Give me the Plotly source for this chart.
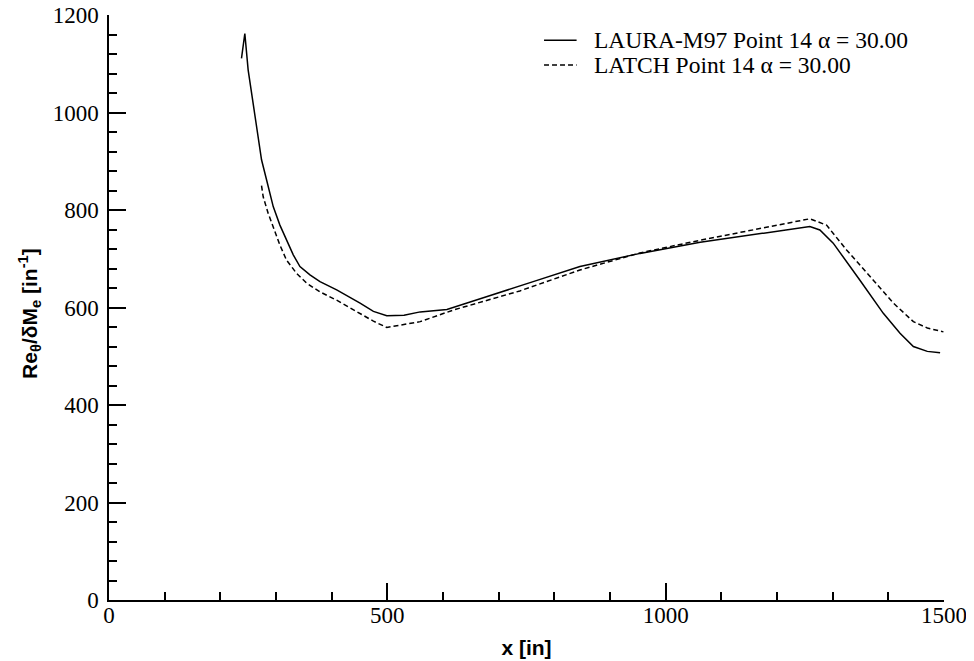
import plotly.graph_objects as go

laura_x = [238, 244, 250, 259, 265, 274, 283, 295, 307, 319, 331, 343, 361, 379, 409, 451, 475, 499, 530, 559, 607, 678, 738, 762, 846, 954, 1062, 1181, 1259, 1277, 1301, 1349, 1391, 1421, 1445, 1470, 1493]
laura_y = [1111, 1162, 1087, 1019, 971, 903, 862, 807, 769, 738, 708, 684, 667, 653, 636, 609, 592, 583, 584, 591, 596, 622, 643, 653, 684, 711, 734, 754, 766, 759, 732, 656, 588, 547, 520, 510, 507]

latch_x = [274, 277, 286, 295, 307, 319, 337, 355, 379, 409, 451, 475, 499, 559, 619, 738, 846, 954, 1062, 1181, 1259, 1289, 1325, 1373, 1409, 1445, 1470, 1499]
latch_y = [850, 827, 793, 766, 728, 697, 670, 650, 632, 615, 588, 572, 559, 571, 595, 634, 677, 712, 738, 765, 782, 769, 718, 656, 609, 571, 558, 550]

laura_name = "LAURA-M97 Point 14 α = 30.00"
latch_name = "LATCH Point 14 α = 30.00"
x_title = "<b>x [in]</b>"
y_title = "<b>Re<sub>θ</sub>/δM<sub>e</sub> [in<sup>-1</sup>]</b>"

solid = dict(color="black", width=1.5)
dashed = dict(color="black", width=1.5, dash="5px,3px")

fig = go.Figure()
fig.add_trace(go.Scatter(x=laura_x, y=laura_y, mode="lines", name=laura_name,
                         line=solid, showlegend=False))
fig.add_trace(go.Scatter(x=latch_x, y=latch_y, mode="lines", name=latch_name,
                         line=dashed, showlegend=False))

serif = "Liberation Serif, Times New Roman, serif"
sans = "Liberation Sans, Arial, sans-serif"

# legend drawn by hand (paper coordinates)
legend_rows = [(laura_name, solid, 0.957), (latch_name, dashed, 0.9145)]
for name, ln, yy in legend_rows:
    fig.add_shape(type="line", xref="paper", yref="paper",
                  x0=0.521, x1=0.560, y0=yy, y1=yy, line=ln)
    fig.add_annotation(text=name, xref="paper", yref="paper", x=0.5784, y=yy,
                       xanchor="left", yanchor="middle", showarrow=False,
                       font=dict(family=serif, size=23.5, color="black"))

# y-axis title as a rotated annotation for exact placement
fig.add_annotation(text=y_title, xref="paper", yref="paper", x=0, y=0.489,
                   xshift=-79, xanchor="center", yanchor="middle", textangle=-90,
                   showarrow=False, font=dict(family=sans, size=21, color="black"))

# page body has an 8px margin, so the figure is drawn 8px smaller and offset
fig.update_layout(
    width=966, height=653,
    margin=dict(l=101, r=30, t=7, b=61),
    paper_bgcolor="white", plot_bgcolor="white",
    showlegend=False,
    xaxis=dict(range=[0, 1500], dtick=500, tick0=0, automargin=False,
               showline=True, linecolor="black", linewidth=1.5,
               ticks="inside", ticklen=17, tickwidth=1.5, tickcolor="black",
               minor=dict(dtick=100, ticks="inside", ticklen=8, tickwidth=1.5, tickcolor="black"),
               showgrid=False, zeroline=False, ticklabelstandoff=-6, ticklabeloverflow="allow",
               tickfont=dict(family=serif, size=23, color="black"),
               title=dict(text=x_title, font=dict(family=sans, size=21, color="black"), standoff=13)),
    yaxis=dict(range=[0, 1200], dtick=200, tick0=0, automargin=False,
               showline=True, linecolor="black", linewidth=1.5,
               ticks="inside", ticklen=17, tickwidth=1.5, tickcolor="black",
               minor=dict(dtick=40, ticks="inside", ticklen=8, tickwidth=1.5, tickcolor="black"),
               showgrid=False, zeroline=False, ticklabelstandoff=4, ticklabeloverflow="allow",
               tickfont=dict(family=serif, size=23, color="black")),
)

fig.write_html("out.html")
